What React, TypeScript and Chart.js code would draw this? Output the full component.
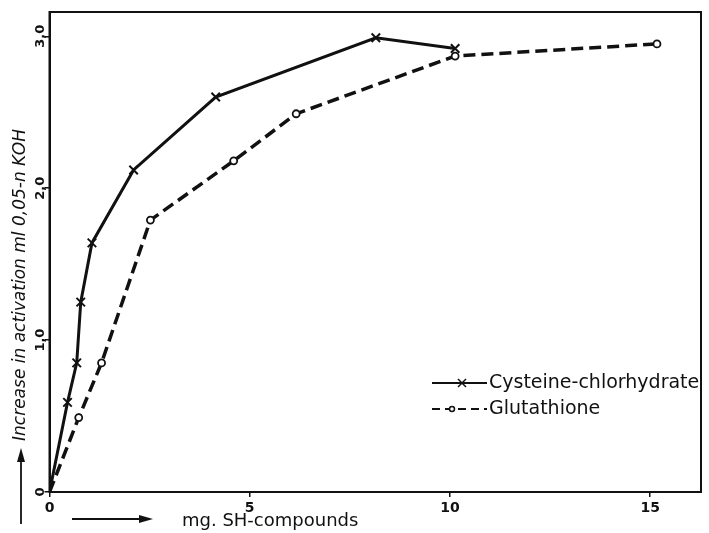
import { useEffect, useRef } from "react";
import { Chart, registerables } from "chart.js";
Chart.register(...registerables);

const cysteineX = [0, 0.45, 0.68, 0.78, 1.06, 2.1, 4.15, 8.15, 10.13];
const cysteineY = [0, 0.59, 0.85, 1.25, 1.64, 2.12, 2.6, 2.99, 2.92];
const glutathioneX = [0, 0.73, 1.3, 2.52, 4.6, 6.16, 10.13, 15.17];
const glutathioneY = [0, 0.49, 0.85, 1.79, 2.18, 2.49, 2.87, 2.95];
const xTicks = [0, 5, 10, 15];
const xTickLabels = ["0", "5", "10", "15"];
const yTicks = [0, 1, 2, 3];
const yTickLabels = ["0", "1,0", "2,0", "3,0"];
const seriesLabels = ["Cysteine-chlorhydrate", "Glutathione"];
const xTitle = "mg. SH-compounds";
const yTitle = "Increase in activation ml 0,05-n KOH";
const X_MAX = 16.27;
const Y_MAX = 3.16;

const INK = "#111";

function arrow(ctx: CanvasRenderingContext2D, x1: number, y1: number, x2: number, y2: number) {
  const ang = Math.atan2(y2 - y1, x2 - x1);
  ctx.beginPath();
  ctx.moveTo(x1, y1);
  ctx.lineTo(x2 - 10 * Math.cos(ang), y2 - 10 * Math.sin(ang));
  ctx.stroke();
  ctx.beginPath();
  ctx.moveTo(x2, y2);
  ctx.lineTo(x2 - 14 * Math.cos(ang) + 4 * Math.sin(ang), y2 - 14 * Math.sin(ang) - 4 * Math.cos(ang));
  ctx.lineTo(x2 - 14 * Math.cos(ang) - 4 * Math.sin(ang), y2 - 14 * Math.sin(ang) + 4 * Math.cos(ang));
  ctx.closePath();
  ctx.fill();
}

const decorPlugin = {
  id: "decor",
  afterDraw(chart: any) {
    const ctx: CanvasRenderingContext2D = chart.ctx;
    const { left, right, top, bottom } = chart.chartArea;
    const ys = chart.scales.y;
    ctx.save();
    ctx.strokeStyle = INK;
    ctx.fillStyle = INK;
    ctx.lineWidth = 2;
    ctx.strokeRect(left, top, right - left, bottom - top);

    // y tick labels, rotated
    ctx.font = "bold 13px 'DejaVu Sans'";
    ctx.textAlign = "center";
    ctx.textBaseline = "middle";
    yTicks.forEach((v, i) => {
      const py = ys.getPixelForValue(v);
      ctx.save();
      ctx.translate(left - 9, py);
      ctx.rotate(-Math.PI / 2);
      ctx.fillText(yTickLabels[i], 0, 0);
      ctx.restore();
    });

    // y title
    ctx.save();
    ctx.font = "italic 17px 'DejaVu Sans'";
    ctx.translate(21, 285);
    ctx.rotate(-Math.PI / 2);
    ctx.fillText(yTitle, 0, 0);
    ctx.restore();
    ctx.lineWidth = 1.8;
    arrow(ctx, 21, 524, 21, 448);

    // x title
    ctx.font = "18px 'DejaVu Sans'";
    ctx.textAlign = "left";
    ctx.fillText(xTitle, 182, 521);
    arrow(ctx, 72, 519, 153, 519);

    // legend
    const items = chart.data.datasets;
    const rows = [383, 409];
    items.forEach((ds: any, i: number) => {
      const y = rows[i];
      ctx.save();
      ctx.strokeStyle = INK;
      ctx.lineWidth = 2.2;
      ctx.setLineDash(i === 1 ? [8, 5] : []);
      ctx.beginPath();
      ctx.moveTo(432, y);
      ctx.lineTo(487, y);
      ctx.stroke();
      ctx.setLineDash([]);
      ctx.lineWidth = 1.5;
      if (ds.pointStyle === "crossRot") {
        const cx = 462;
        ctx.beginPath();
        ctx.moveTo(cx - 4, y - 4);
        ctx.lineTo(cx + 4, y + 4);
        ctx.moveTo(cx - 4, y + 4);
        ctx.lineTo(cx + 4, y - 4);
        ctx.stroke();
      } else {
        ctx.fillStyle = "#fff";
        ctx.beginPath();
        ctx.arc(452, y, 2.5, 0, Math.PI * 2);
        ctx.fill();
        ctx.stroke();
      }
      ctx.restore();
      ctx.font = "19px 'DejaVu Sans'";
      ctx.fillStyle = INK;
      ctx.textAlign = "left";
      ctx.textBaseline = "middle";
      ctx.fillText(ds.label, 489, y);
    });
    ctx.restore();
  },
};

export default function App() {
  const ref = useRef<HTMLCanvasElement | null>(null);
  useEffect(() => {
    if (!ref.current) return;
    const chart = new Chart(ref.current, {
      type: "line",
      data: {
        datasets: [
          {
            label: seriesLabels[0],
            data: cysteineX.map((x, i) => ({ x, y: cysteineY[i] })),
            borderColor: INK,
            backgroundColor: INK,
            borderWidth: 3,
            pointStyle: "crossRot",
            pointRadius: (c: any) => (c.dataIndex === 0 ? 0 : 6),
            pointBorderWidth: 2,
            pointBorderColor: INK,
            tension: 0,
          },
          {
            label: seriesLabels[1],
            data: glutathioneX.map((x, i) => ({ x, y: glutathioneY[i] })),
            borderColor: INK,
            backgroundColor: "#fff",
            borderWidth: 3.5,
            borderDash: [12, 6],
            pointStyle: "circle",
            pointRadius: (c: any) => (c.dataIndex === 0 ? 0 : 3.5),
            pointBorderWidth: 1.8,
            pointBorderColor: INK,
            pointBackgroundColor: "#fff",
            tension: 0,
          },
        ],
      },
      options: {
        animation: false,
        responsive: false,
        layout: { padding: { top: 12, right: 4, left: 0, bottom: 0 } },
        plugins: { legend: { display: false }, tooltip: { enabled: false } },
        scales: {
          x: {
            type: "linear",
            min: 0,
            max: X_MAX,
            afterBuildTicks: (s: any) => {
              s.ticks = xTicks.map((v) => ({ value: v }));
            },
            afterFit: (s: any) => {
              s.height = 41;
            },
            ticks: {
              color: INK,
              font: { family: "DejaVu Sans", size: 14, weight: "bold" },
              padding: 3,
              maxRotation: 0,
              callback: (v: any) => {
                const i = xTicks.indexOf(Number(v));
                return i >= 0 ? xTickLabels[i] : "";
              },
            },
            grid: { drawOnChartArea: false, drawTicks: true, tickLength: 5, color: INK, lineWidth: 1.5 },
            border: { display: true, color: INK, width: 2 },
          },
          y: {
            type: "linear",
            min: 0,
            max: Y_MAX,
            afterBuildTicks: (s: any) => {
              s.ticks = yTicks.map((v) => ({ value: v }));
            },
            afterFit: (s: any) => {
              s.width = 49.5;
            },
            ticks: { display: false },
            grid: { drawOnChartArea: false, drawTicks: true, tickLength: 5, color: INK, lineWidth: 1.5 },
            border: { display: true, color: INK, width: 2 },
          },
        },
      },
      plugins: [decorPlugin],
    });
    return () => chart.destroy();
  }, []);
  return (
    <div style={{ position: "fixed", left: 0, top: 0, width: 709, height: 533, background: "#fff" }}>
      <canvas ref={ref} width={709} height={533} />
    </div>
  );
}
